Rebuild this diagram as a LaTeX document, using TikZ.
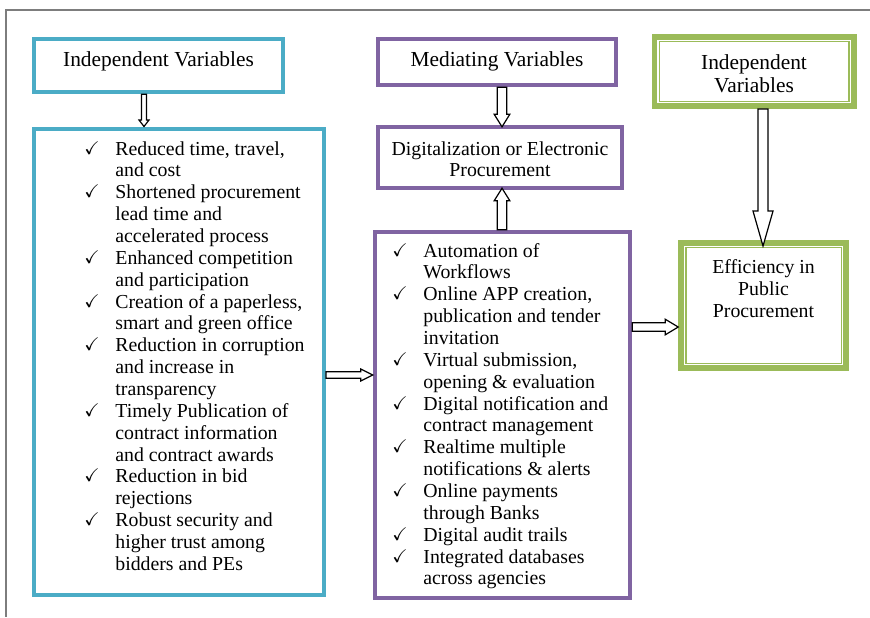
\documentclass[tikz,border=0pt]{standalone}
\usepackage{fontspec}
\setmainfont{Liberation Serif}
\usepackage{amssymb}
\usepackage{amsmath}
\usetikzlibrary{calc,fit}
\definecolor{cblue}{RGB}{75,172,198}
\definecolor{cpurple}{RGB}{128,100,162}
\definecolor{cgreen}{RGB}{155,187,89}
\definecolor{framec}{RGB}{125,125,125}
\newcommand\ckm{\raisebox{0.5pt}{\fontsize{9.2}{9.2}\selectfont$\boldsymbol{\checkmark}$}}
\newcommand\blk[5]{%
  \path ($(#2)!#5!(#1)$) coordinate (bkB);
  \draw[blkarrow] ($(#1)!#3!90:(#2)$) -- ($(bkB)!#3!90:(#2)$) -- ($(bkB)!#4!90:(#2)$) -- (#2)
     -- ($(bkB)!#4!-90:(#2)$) -- ($(bkB)!#3!-90:(#2)$) -- ($(#1)!#3!-90:(#2)$) -- cycle;}
\begin{document}
\begin{tikzpicture}[x=0.5pt,y=-0.5pt,
  bbox/.style={draw=cblue, line width=2.2pt, inner sep=0pt},
  pbox/.style={draw=cpurple, line width=2.2pt, inner sep=0pt},
  gbox/.style={draw=cgreen, line width=2.75pt, inner sep=0pt},
  ginner/.style={draw=cgreen, line width=0.6pt},
  ttl/.style={font=\fontsize{10.7}{12}\selectfont, inner sep=0pt, anchor=base},
  txt/.style={font=\fontsize{9.9}{10.93}\selectfont, inner sep=0pt},
  blkarrow/.style={draw=black, line width=0.6pt, fill=white, line join=miter}]
\useasboundingbox (0,0) rectangle (870,617);
% outer frame (top and left edges)
\draw[framec, line width=0.6pt] (870,10) -- (6,10) -- (6,617);

% boxes
\node[bbox, fit={(34,39) (283,92)}] (b1) {};
\node[bbox, fit={(34,128.7) (323.7,595)}] (b2) {};
\node[pbox, fit={(378,39) (616,85)}] (b3) {};
\node[pbox, fit={(378,127) (622,188)}] (b4) {};
\node[pbox, fit={(375,232) (630,598)}] (b5) {};
\node[gbox, fit={(654.5,36.8) (854,106.2)}] (b6) {};
\node[gbox, fit={(681,242.8) (846.2,368.2)}] (b7) {};
\draw[ginner] ($(b6.south west)+(7.8,-7.8)$) rectangle ($(b6.north east)+(-7.8,7.8)$);
\draw[ginner] ($(b7.south west)+(7.8,-7.8)$) rectangle ($(b7.north east)+(-7.8,7.8)$);

% titles
\node[ttl] (t1) at (158.5,66) {Independent Variables};
\node[ttl] (t3) at (497,66) {Mediating Variables};
\node[ttl, font=\fontsize{10.7}{11.5}\selectfont] (t6) at (754,69)
  {\begin{tabular}[t]{@{}c@{}}Independent\\Variables\end{tabular}};
\node[txt, anchor=base] (t4) at (500,155)
  {\begin{tabular}[t]{@{}c@{}}Digitalization or Electronic\\Procurement\end{tabular}};
\node[txt, anchor=base, font=\fontsize{9.9}{11}\selectfont] (t7) at (763.5,273)
  {\begin{tabular}[t]{@{}c@{}}Efficiency in\\Public\\Procurement\end{tabular}};

% lists
\node[txt, anchor=base west] (l2) at (84,155)
 {\begin{tabular}[t]{@{}p{15.5pt}@{}l@{}}
 \ckm & Reduced time, travel,\\
      & and cost\\
 \ckm & Shortened procurement\\
      & lead time and\\
      & accelerated process\\
 \ckm & Enhanced competition\\
      & and participation\\
 \ckm & Creation of a paperless,\\
      & smart and green office\\
 \ckm & Reduction in corruption\\
      & and increase in\\
      & transparency\\
 \ckm & Timely Publication of\\
      & contract information\\
      & and contract awards\\
 \ckm & Reduction in bid\\
      & rejections\\
 \ckm & Robust security and\\
      & higher trust among\\
      & bidders and PEs
 \end{tabular}};
\node[txt, anchor=base west] (l5) at (392,257)
 {\begin{tabular}[t]{@{}p{15.5pt}@{}l@{}}
 \ckm & Automation of\\
      & Workflows\\
 \ckm & Online APP creation,\\
      & publication and tender\\
      & invitation\\
 \ckm & Virtual submission,\\
      & opening \& evaluation\\
 \ckm & Digital notification and\\
      & contract management\\
 \ckm & Realtime multiple\\
      & notifications \& alerts\\
 \ckm & Online payments\\
      & through Banks\\
 \ckm & Digital audit trails\\
 \ckm & Integrated databases\\
      & across agencies
 \end{tabular}};

% arrows
\coordinate (x144) at (144,0);
\coordinate (x502) at (502,0);
\coordinate (x763) at (763,0);
\coordinate (y375) at (0,375);
\coordinate (y327) at (0,327);
\coordinate (a1t) at (b1.south -| x144);
\coordinate (a1p) at (b2.north -| x144);
\coordinate (a2t) at (b3.south -| x502);
\coordinate (a2p) at ($(b4.north -| x502)+(0,2)$);
\coordinate (a3t) at (b5.north -| x502);
\coordinate (a3p) at ($(b4.south -| x502)+(0,-2)$);
\coordinate (a4t) at (b2.east |- y375);
\coordinate (a4p) at (b5.west |- y375);
\coordinate (a5t) at (b5.east |- y327);
\coordinate (a5p) at (b7.west |- y327);
\coordinate (a6t) at (b6.south -| x763);
\coordinate (a6p) at ($(b7.north -| x763)+(0,6)$);
\blk{a1t}{a1p}{1.25pt}{2.5pt}{3.25pt}
\blk{a2t}{a2p}{2.35pt}{3.9pt}{6.25pt}
\blk{a3t}{a3p}{2.35pt}{3.9pt}{6.25pt}
\blk{a4t}{a4p}{1.65pt}{3pt}{6pt}
\blk{a5t}{a5p}{2.15pt}{3.9pt}{6.5pt}
\blk{a6t}{a6p}{2.5pt}{5pt}{17.5pt}
\end{tikzpicture}
\end{document}
